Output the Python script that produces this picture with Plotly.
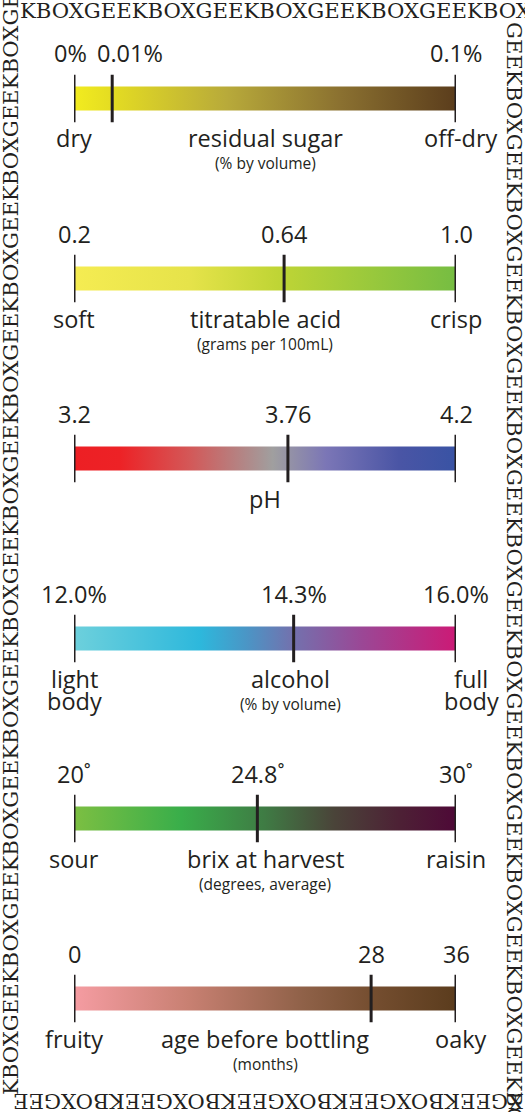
import plotly.graph_objects as go

# ---------------- data ----------------
measures = ["residual sugar", "titratable acid", "pH", "alcohol",
            "brix at harvest", "age before bottling"]
units = ["(% by volume)", "(grams per 100mL)", "", "(% by volume)",
         "(degrees, average)", "(months)"]
low_values = [0.0, 0.2, 3.2, 12.0, 20.0, 0.0]
mark_values = [0.01, 0.64, 3.76, 14.3, 24.8, 28.0]
high_values = [0.1, 1.0, 4.2, 16.0, 30.0, 36.0]
low_texts = ["0%", "0.2", "3.2", "12.0%", "20˚", "0"]
mark_texts = ["0.01%", "0.64", "3.76", "14.3%", "24.8˚", "28"]
high_texts = ["0.1%", "1.0", "4.2", "16.0%", "30˚", "36"]
low_words = [["dry"], ["soft"], [], ["light", "body"], ["sour"], ["fruity"]]
high_words = [["off-dry"], ["crisp"], [], ["full", "body"], ["raisin"], ["oaky"]]

colorscales = [
    [[0, "#f2ec1f"], [0.1, "#e4dc22"], [0.4, "#b8aa3a"], [0.7, "#8a7030"], [1, "#5b3d1c"]],
    [[0, "#f5ec52"], [0.3, "#e6e34a"], [0.53, "#c0d535"], [1, "#76bd42"]],
    [[0, "#ed1f24"], [0.12, "#ed2226"], [0.3, "#d45757"], [0.52, "#a09f9f"],
     [0.66, "#7b76b6"], [0.85, "#4a55a5"], [1, "#3953a4"]],
    [[0, "#6dd0dc"], [0.33, "#2db8dc"], [0.45, "#4a96c6"], [0.57, "#7272ae"],
     [0.75, "#9a4896"], [1, "#cc1a76"]],
    [[0, "#7cbf42"], [0.28, "#39ae4a"], [0.5, "#3f7b44"], [0.68, "#4a4439"],
     [0.85, "#4d2135"], [1, "#4e0937"]],
    [[0, "#f59ca2"], [0.3, "#c88072"], [0.6, "#8f6148"], [0.78, "#754e30"], [1, "#5b3c1d"]],
]

border_top = "KBOXGEE" * 4 + "KBOX"
border_right = "GEEKBOX" * 9 + "GEEKBO"
border_bottom = "X" + "GEEKBOX" * 4 + "GEE"
border_left = "KBOXGEE" * 10

# ---------------- layout ----------------
W, H = 525, 1112
INK = "#231f20"
LABEL_FONT = "Open Sans"
LSIZE = 23.5
X0_PX, X1_PX = 74, 456
value_xshift = {(0, "low"): -4, (0, "mark"): 18}
high_word_xshift = {0: 4, 3: 15, 5: 5}
title_xshift = {3: 25}

fig = go.Figure()
layout = dict(width=W, height=H, margin=dict(l=0, r=0, t=0, b=0),
              paper_bgcolor="white", plot_bgcolor="rgba(0,0,0,0)",
              showlegend=False)
shapes, annotations = [], []


def word_ann(xa, ya, x, yshift, text, xshift=0, size=LSIZE):
    return dict(xref=xa, yref=ya, x=x, y=0, yshift=yshift, xshift=xshift,
                text=text, showarrow=False, xanchor="center", yanchor="middle",
                font=dict(family=LABEL_FONT, size=size, color=INK))


for i in range(len(measures)):
    ax = "" if i == 0 else str(i + 1)
    xa, ya = "x" + ax, "y" + ax
    yc = 98.5 + 180 * i
    lo, mid, hi = low_values[i], mark_values[i], high_values[i]

    fig.add_trace(go.Scatter(
        x=[lo, hi, hi, lo, lo], y=[-1, -1, 1, 1, -1],
        fill="toself", mode="lines", line=dict(width=0),
        fillgradient=dict(type="horizontal", colorscale=colorscales[i]),
        xaxis=xa, yaxis=ya, hoverinfo="skip", showlegend=False))

    layout["xaxis" + ax] = dict(domain=[X0_PX / W, X1_PX / W], range=[lo, hi],
                                visible=False, fixedrange=True, anchor=ya)
    layout["yaxis" + ax] = dict(domain=[1 - (yc + 24) / H, 1 - (yc - 24) / H],
                                range=[-2, 2], visible=False, fixedrange=True, anchor=xa)

    for v in (lo, mid, hi):
        shapes.append(dict(type="line", xref=xa, yref=ya, x0=v, x1=v, y0=-2, y1=2,
                           line=dict(color=INK, width=3), layer="above"))

    for v, t, key in ((lo, low_texts[i], "low"), (mid, mark_texts[i], "mark"),
                      (hi, high_texts[i], "high")):
        annotations.append(word_ann(xa, ya, v, 45, t, value_xshift.get((i, key), 0)))

    for k, w in enumerate(low_words[i]):
        annotations.append(word_ann(xa, ya, lo, -40 - 22 * k, w, 0))
    for k, w in enumerate(high_words[i]):
        annotations.append(word_ann(xa, ya, hi, -40 - 22 * k, w, high_word_xshift.get(i, 0)))

    annotations.append(word_ann(xa, ya, (lo + hi) / 2, -40, measures[i], title_xshift.get(i, 0)))
    if units[i]:
        annotations.append(word_ann(xa, ya, (lo + hi) / 2, -65, units[i],
                                    title_xshift.get(i, 0), size=15.5))

# border text
BFONT = dict(family="DejaVu Serif", size=21.2, color=INK)
annotations.append(dict(xref="paper", yref="paper", x=18 / W, y=1, xanchor="left", yanchor="top",
                        yshift=4, text=border_top, showarrow=False, font=BFONT, textangle=0))
annotations.append(dict(xref="paper", yref="paper", x=1, y=1 - 20 / H, xanchor="right", yanchor="top",
                        xshift=4, text=border_right, showarrow=False, font=BFONT, textangle=90))
annotations.append(dict(xref="paper", yref="paper", x=1, y=0, xanchor="right", yanchor="bottom",
                        yshift=-4, text=border_bottom, showarrow=False, font=BFONT, textangle=180))
annotations.append(dict(xref="paper", yref="paper", x=0, y=15 / H, xanchor="left", yanchor="bottom",
                        xshift=-4, text=border_left, showarrow=False, font=BFONT, textangle=-90))

layout["shapes"] = shapes
layout["annotations"] = annotations
fig.update_layout(**layout)
fig.write_html("out.html", config={"displayModeBar": False},
               post_script="document.body.style.margin='0px';document.body.style.padding='0px';")
